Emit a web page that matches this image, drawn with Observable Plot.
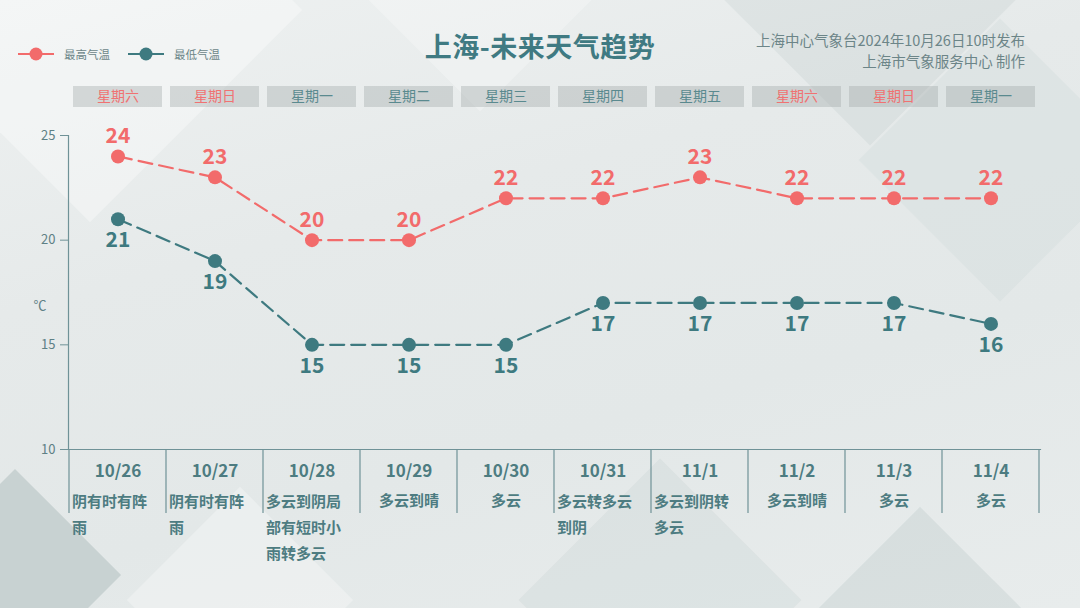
<!DOCTYPE html>
<html>
<head>
<meta charset="utf-8">
<script src="https://cdn.jsdelivr.net/npm/d3@7"></script>
<script src="https://cdn.jsdelivr.net/npm/@observablehq/plot@0.6"></script>
<style>
  html, body { margin: 0; padding: 0; }
  body {
    width: 1080px; height: 608px; overflow: hidden; position: relative;
    font-family: "Noto Sans CJK SC", "Noto Sans", sans-serif;
    background: linear-gradient(165deg, #eef1f1 0%, #e6eaea 35%, #e3e8e8 65%, #e8ecec 100%);
  }
  .deco { position: absolute; transform: rotate(45deg); pointer-events: none; }
  #chart { position: absolute; left: 0; top: 0; }
  .title { position: absolute; left: 0; width: 1080px; top: 27px; text-align: center;
    font-size: 27px; font-weight: bold; color: #3f7a82; letter-spacing: 0.5px; line-height: 38px; }
  .src { position: absolute; right: 55px; font-size: 14.5px; color: #6c8588; text-align: right; line-height: 20px; }
  .legend { position: absolute; top: 46px; left: 18px; display: flex; align-items: center; font-size: 11.5px; color: #6c8588; }
  .legend .item { display: flex; align-items: center; margin-right: 18px; }
  .legend svg { margin-right: 10px; }
</style>
</head>
<body>
<div class="deco" style="left:-60px; top:-140px; width:300px; height:300px; background:rgba(255,255,255,0.35);"></div>
<div class="deco" style="left:-60px; top:500px; width:150px; height:150px; background:rgba(150,170,170,0.35);"></div>
<div class="deco" style="left:160px; top:520px; width:160px; height:160px; background:rgba(255,255,255,0.3);"></div>
<div class="deco" style="left:760px; top:-120px; width:220px; height:220px; background:rgba(170,190,190,0.18);"></div>
<div class="deco" style="left:900px; top:60px; width:200px; height:200px; background:rgba(190,205,205,0.18);"></div>
<div class="deco" style="left:560px; top:500px; width:200px; height:200px; background:rgba(170,185,185,0.15);"></div>
<div class="deco" style="left:840px; top:540px; width:160px; height:160px; background:rgba(150,170,170,0.18);"></div>
<div class="deco" style="left:380px; top:-130px; width:200px; height:200px; background:rgba(255,255,255,0.25);"></div>

<div class="legend">
  <div class="item"><svg width="36" height="16"><line x1="0" y1="8" x2="36" y2="8" stroke="#f26b6b" stroke-width="2"/><circle cx="18" cy="8" r="6.5" fill="#f26b6b"/></svg>最高气温</div>
  <div class="item"><svg width="36" height="16"><line x1="0" y1="8" x2="36" y2="8" stroke="#3e7a80" stroke-width="2"/><circle cx="18" cy="8" r="6.5" fill="#3e7a80"/></svg>最低气温</div>
</div>
<div class="title">上海-未来天气趋势</div>
<div class="src" style="top:30px;">上海中心气象台2024年10月26日10时发布</div>
<div class="src" style="top:51px;">上海市气象服务中心 制作</div>
<div id="chart"></div>

<script>
const dates = ["10/26","10/27","10/28","10/29","10/30","10/31","11/1","11/2","11/3","11/4"];
const weekdays = ["星期六","星期日","星期一","星期二","星期三","星期四","星期五","星期六","星期日","星期一"];
const highs = [24,23,20,20,22,22,23,22,22,22];
const lows = [21,19,15,15,15,17,17,17,17,16];
const weather = ["阴有时有阵雨","阴有时有阵雨","多云到阴局部有短时小雨转多云","多云到晴","多云","多云转多云到阴","多云到阴转多云","多云到晴","多云","多云"];
const yTicks = [10,15,20,25];

const RED = "#f26b6b", TEAL = "#3e7a80", TXT = "#4d7c81", AX = "#6f9297";

function wrap(s, n) {
  const chars = Array.from(s), out = [];
  for (let i = 0; i < chars.length; i += n) out.push(chars.slice(i, i + n).join(""));
  return out.join("\n");
}

const rows = dates.map((d, i) => ({
  date: d, high: highs[i], low: lows[i], week: weekdays[i],
  weekend: weekdays[i] === "星期六" || weekdays[i] === "星期日",
  wx: wrap(weather[i], 5), wrapped: Array.from(weather[i]).length > 5
}));

const chart = Plot.plot({
  width: 1080, height: 608,
  marginTop: 135, marginBottom: 159, marginLeft: 68, marginRight: 40,
  style: { background: "transparent", fontFamily: "'Noto Sans CJK SC', sans-serif", overflow: "visible" },
  x: { type: "band", domain: dates, padding: 0, axis: null },
  y: { domain: [10, 25], axis: null },
  marks: [
    Plot.frame({ anchor: "left", stroke: AX, strokeWidth: 1.2 }),
    Plot.frame({ anchor: "bottom", stroke: AX, strokeWidth: 1.2 }),
    Plot.axisY({ ticks: yTicks, tickSize: 8, tickPadding: 5, label: null, fontSize: 13, color: "#5e8085", stroke: AX }),
    Plot.text(["℃"], { frameAnchor: "left", dx: -35, dy: 13, fontSize: 13, fill: "#5e8085" }),
    Plot.lineY(rows, { x: "date", y: "high", stroke: RED, strokeWidth: 2.2, strokeDasharray: "14,7" }),
    Plot.lineY(rows, { x: "date", y: "low", stroke: TEAL, strokeWidth: 2.2, strokeDasharray: "14,7" }),
    Plot.dot(rows, { x: "date", y: "high", r: 7, fill: RED }),
    Plot.dot(rows, { x: "date", y: "low", r: 7, fill: TEAL }),
    Plot.text(rows, { x: "date", y: "high", text: d => String(d.high), dy: -20, fontSize: 21, fontWeight: "bold", fill: RED }),
    Plot.text(rows, { x: "date", y: "low", text: d => String(d.low), dy: 21, fontSize: 21, fontWeight: "bold", fill: TEAL }),
    Plot.text(rows, { x: "date", text: "date", frameAnchor: "bottom", lineAnchor: "middle", dy: 22, fontSize: 17, fontWeight: "bold", fill: TXT }),
    Plot.text(rows.filter(d => !d.wrapped), { x: "date", text: "wx", frameAnchor: "bottom", lineAnchor: "middle", dy: 52, fontSize: 15, fontWeight: "bold", fill: TXT }),
    Plot.text(rows.filter(d => d.wrapped), { x: "date", text: "wx", frameAnchor: "bottom", lineAnchor: "top", textAnchor: "start", dx: -46, dy: 39, lineHeight: 1.73, fontSize: 15, fontWeight: "bold", fill: TXT }),
    Plot.text(rows, { x: "date", text: "week", frameAnchor: "top", lineAnchor: "middle", dy: -39, fontSize: 14, fill: d => d.weekend ? "#f07272" : "#5a8a8f" })
  ]
});

document.getElementById("chart").appendChild(chart);

// table separators and weekday boxes, positioned with Plot's own scales
const xs = chart.scale("x"), ys = chart.scale("y");
const bw = xs.bandwidth;
const svg = d3.select(chart);
const y0 = ys.apply(10);
const g = svg.insert("g", ":first-child");
dates.forEach(d => {
  const x = xs.apply(d);
  g.append("rect").attr("x", x + bw / 2 - 44.5).attr("y", ys.apply(25) - 49).attr("width", 89).attr("height", 21)
    .attr("fill", "rgba(160,168,168,0.38)");
});
const bounds = dates.map(d => xs.apply(d)).concat([xs.apply(dates[dates.length - 1]) + bw]);
bounds.forEach(x => {
  svg.append("line").attr("x1", x).attr("x2", x).attr("y1", y0).attr("y2", y0 + 64)
    .attr("stroke", AX).attr("stroke-width", 1.2);
});
</script>
</body>
</html>
